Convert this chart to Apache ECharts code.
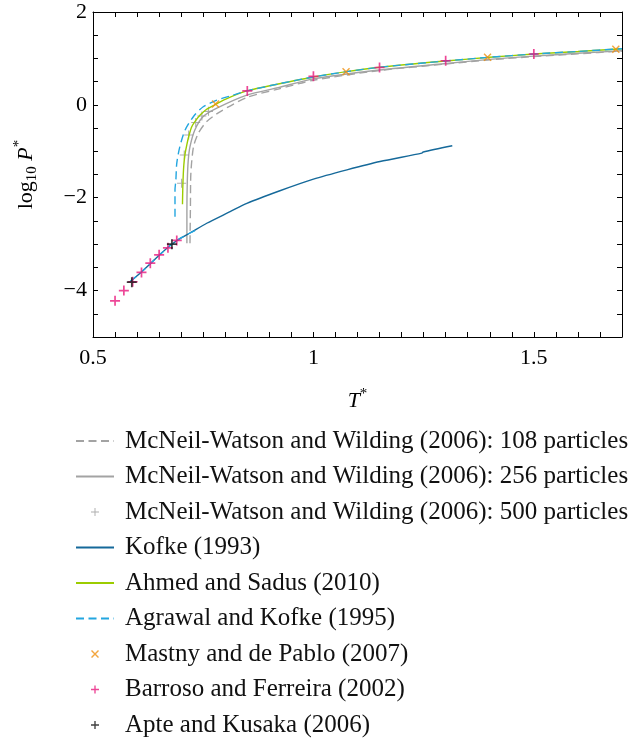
<!DOCTYPE html>
<html>
<head>
<meta charset="utf-8">
<script src="https://cdn.jsdelivr.net/npm/echarts@6/dist/echarts.min.js"></script>
<style>html,body{margin:0;padding:0;background:#fff}#c{width:630px;height:740px}</style>
</head>
<body>
<div id="c"></div>
<script>
// ---- data (T*, log10 P*) ----
const mw108T = [0.720, 0.721, 0.722, 0.728, 0.739, 0.758, 0.788, 0.849, 0.92, 1.0, 1.15, 1.3, 1.4, 1.5, 1.6, 1.7];
const mw108P = [-2.98, -2.2, -1.47, -0.90, -0.61, -0.36, -0.15, 0.16, 0.34, 0.53, 0.74, 0.88, 0.97, 1.04, 1.10, 1.16];
const mw256T = [0.713, 0.713, 0.714, 0.716, 0.720, 0.731, 0.750, 0.781, 0.849, 0.92, 1.0, 1.15, 1.29, 1.4, 1.5, 1.6, 1.7];
const mw256P = [-2.98, -2.3, -1.62, -1.2, -0.90, -0.54, -0.25, -0.07, 0.21, 0.37, 0.56, 0.75, 0.88, 0.98, 1.05, 1.11, 1.165];
const mw500T = [0.701, 0.707, 0.717, 0.733, 0.747, 0.762];
const mw500P = [-1.69, -1.08, -0.65, -0.38, -0.24, -0.14];
const kofkeT = [0.584, 0.61, 0.63, 0.65, 0.675, 0.697, 0.72, 0.758, 0.811, 0.849, 0.924, 1.0, 1.076, 1.151, 1.246, 1.249, 1.315];
const kofkeP = [-3.81, -3.60, -3.42, -3.24, -3.03, -2.88, -2.76, -2.55, -2.30, -2.12, -1.85, -1.60, -1.40, -1.22, -1.04, -1.015, -0.88];
const ahmedT = [0.703, 0.704, 0.706, 0.709, 0.713, 0.718, 0.724, 0.732, 0.743, 0.757, 0.776, 0.80, 0.849, 0.92, 1.0, 1.075, 1.15, 1.3, 1.4, 1.5, 1.6, 1.7];
const ahmedP = [-2.14, -1.69, -1.30, -1.05, -0.85, -0.65, -0.47, -0.35, -0.22, -0.10, 0.0, 0.12, 0.30, 0.45, 0.60, 0.715, 0.81, 0.945, 1.025, 1.095, 1.15, 1.21];
const agrawalSubT = [0.584, 0.61, 0.63, 0.65, 0.675, 0.697, 0.72, 0.735];
const agrawalSubP = [-3.81, -3.60, -3.42, -3.24, -3.03, -2.88, -2.76, -2.69];
const agrawalT = [0.686, 0.686, 0.688, 0.690, 0.697, 0.709, 0.728, 0.750, 0.781, 0.818, 0.849, 0.92, 1.0, 1.075, 1.15, 1.3, 1.4, 1.5, 1.6, 1.7];
const agrawalP = [-2.41, -1.83, -1.62, -1.26, -0.90, -0.54, -0.25, -0.04, 0.10, 0.21, 0.30, 0.45, 0.60, 0.715, 0.81, 0.945, 1.025, 1.095, 1.15, 1.21];
const mastnyT = [0.778, 1.074, 1.395, 1.686];
const mastnyP = [0.02, 0.715, 1.025, 1.20];
const barrosoT = [0.55, 0.57, 0.59, 0.61, 0.63, 0.65, 0.67, 0.69, 0.85, 1.0, 1.15, 1.3, 1.5];
const barrosoP = [-4.22, -4.0, -3.81, -3.61, -3.41, -3.23, -3.08, -2.92, 0.30, 0.615, 0.805, 0.95, 1.095];
const apteT = [0.588, 0.679];
const apteP = [-3.82, -3.0];

const xTickValues = [0.5, 1, 1.5];
const xTickLabels = ['0.5', '1', '1.5'];
const yTickValues = [2, 0, -2, -4];
const yTickLabels = ['2', '0', '\u22122', '\u22124'];

const names = [
  'McNeil-Watson and Wilding (2006): 108 particles',
  'McNeil-Watson and Wilding (2006): 256 particles',
  'McNeil-Watson and Wilding (2006): 500 particles',
  'Kofke (1993)',
  'Ahmed and Sadus (2010)',
  'Agrawal and Kofke (1995)',
  'Mastny and de Pablo (2007)',
  'Barroso and Ferreira (2002)',
  'Apte and Kusaka (2006)'
];
const lineNames = [names[0], names[1], names[3], names[4], names[5]];

const zip = (a, b) => a.map((v, i) => [v, b[i]]);
const PLUS = 'path://M-0.17,-1H0.17V-0.17H1V0.17H0.17V1H-0.17V0.17H-1V-0.17H-0.17Z';
const PLUS_THIN = 'path://M-0.12,-1H0.12V-0.12H1V0.12H0.12V1H-0.12V0.12H-1V-0.12H-0.12Z';
const CROSS = 'path://M-1,-0.75L-0.75,-1L1,0.75L0.75,1Z M0.75,-1L1,-0.75L-0.75,1L-1,0.75Z';
const SERIF = "'Liberation Serif', 'Times New Roman', serif";

function fmt(values, labels) {
  return function (v) {
    for (let i = 0; i < values.length; i++) if (Math.abs(v - values[i]) < 1e-6) return labels[i];
    return '';
  };
}

const axisCommon = {
  type: 'value',
  axisLine: { show: true, onZero: false, lineStyle: { color: '#000', width: 1 } },
  axisTick: { show: true, inside: true, length: 5, lineStyle: { color: '#000', width: 1 } },
  splitLine: { show: false },
  minorTick: { show: false }
};

const chart = echarts.init(document.getElementById('c'), null, { renderer: 'canvas' });
const lineBase = { type: 'line', symbol: 'none', smooth: 0.25, animation: false, clip: true };

function legendItem(n) {
  if (lineNames.indexOf(n) >= 0) return { name: n, itemStyle: { opacity: 0 } };
  return { name: n };
}

chart.setOption({
  animation: false,
  backgroundColor: '#fff',
  grid: { left: 93, right: 8, top: 12, bottom: 403, containLabel: false },
  xAxis: [
    Object.assign({}, axisCommon, {
      min: 0.5, max: 1.7, interval: 0.05, position: 'bottom',
      axisLabel: { interval: 0, formatter: fmt(xTickValues, xTickLabels), fontFamily: SERIF, fontSize: 22, color: '#000', margin: 10 },
      name: '{i|T}{s|*}', nameLocation: 'middle', nameGap: 50,
      nameTextStyle: { rich: {
        i: { fontFamily: SERIF, fontStyle: 'italic', fontSize: 22, color: '#000', lineHeight: 28 },
        s: { fontFamily: SERIF, fontSize: 15, color: '#000', lineHeight: 15, verticalAlign: 'top' }
      } }
    }),
    Object.assign({}, axisCommon, {
      min: 0.5, max: 1.7, interval: 0.05, position: 'top',
      axisLabel: { show: false }
    })
  ],
  yAxis: [
    Object.assign({}, axisCommon, {
      min: -5, max: 2, interval: 0.5, position: 'left',
      axisLabel: { interval: 0, formatter: fmt(yTickValues, yTickLabels), fontFamily: SERIF, fontSize: 22, color: '#000', margin: 6 },
      name: '{n|log}{b|10}{n| }{i|P}{s|*}', nameLocation: 'middle', nameGap: 53,
      nameTextStyle: { rich: {
        n: { fontFamily: SERIF, fontSize: 22, color: '#000', lineHeight: 28 },
        b: { fontFamily: SERIF, fontSize: 15, color: '#000', lineHeight: 15, verticalAlign: 'bottom' },
        i: { fontFamily: SERIF, fontStyle: 'italic', fontSize: 22, color: '#000', lineHeight: 28 },
        s: { fontFamily: SERIF, fontSize: 15, color: '#000', lineHeight: 15, verticalAlign: 'top' }
      } }
    }),
    Object.assign({}, axisCommon, {
      min: -5, max: 2, interval: 0.5, position: 'right',
      axisLabel: { show: false }
    })
  ],
  legend: {
    orient: 'vertical', left: 75, top: 428, padding: 0,
    itemWidth: 38, itemHeight: 8, itemGap: 9.5,
    selectedMode: false,
    data: names.map(legendItem),
    textStyle: { fontFamily: SERIF, fontSize: 25, color: '#111', lineHeight: 26, padding: [0, 0, 0, 6] }
  },
  series: [
    Object.assign({}, lineBase, { name: names[0], data: zip(mw108T, mw108P), z: 2,
      lineStyle: { color: '#a3a3a3', width: 1.4, type: [8, 4.5] }, itemStyle: { color: '#a3a3a3' } }),
    Object.assign({}, lineBase, { name: names[1], data: zip(mw256T, mw256P), z: 2,
      lineStyle: { color: '#a3a3a3', width: 1.4 }, itemStyle: { color: '#a3a3a3' } }),
    { type: 'scatter', name: names[2], data: zip(mw500T, mw500P), symbol: PLUS_THIN, symbolSize: 9, z: 3,
      itemStyle: { color: '#9a9a9a' }, animation: false },
    Object.assign({}, lineBase, { name: names[3], data: zip(kofkeT, kofkeP), z: 3,
      lineStyle: { color: '#15699a', width: 1.4 }, itemStyle: { color: '#15699a' } }),
    Object.assign({}, lineBase, { name: names[4], data: zip(ahmedT, ahmedP), z: 4,
      lineStyle: { color: '#9ccc00', width: 1.4 }, itemStyle: { color: '#9ccc00' } }),
    Object.assign({}, lineBase, { name: names[5], data: zip(agrawalT, agrawalP), z: 5,
      lineStyle: { color: '#23a6e0', width: 1.4, type: [8, 4.5] }, itemStyle: { color: '#23a6e0' } }),
    Object.assign({}, lineBase, { name: names[5], data: zip(agrawalSubT, agrawalSubP), z: 5,
      lineStyle: { color: '#23a6e0', width: 1.4, type: [8, 4.5] }, itemStyle: { color: '#23a6e0' } }),
    { type: 'scatter', name: names[6], data: zip(mastnyT, mastnyP), symbol: CROSS, symbolSize: 8, z: 6,
      itemStyle: { color: '#f0900f' }, animation: false },
    { type: 'scatter', name: names[7], data: zip(barrosoT, barrosoP), symbol: PLUS, symbolSize: 10, z: 6,
      itemStyle: { color: '#e8197d' }, animation: false },
    { type: 'scatter', name: names[8], data: zip(apteT, apteP), symbol: PLUS, symbolSize: 10, z: 7,
      itemStyle: { color: '#111' }, animation: false }
  ]
});
</script>
</body>
</html>
